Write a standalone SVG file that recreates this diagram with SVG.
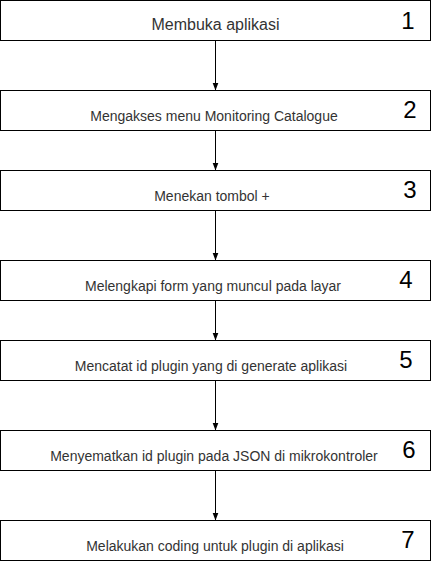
<svg xmlns="http://www.w3.org/2000/svg" width="443" height="561" viewBox="0 0 443 561">
  <style>
    .box { fill: #ffffff; stroke: #000000; stroke-width: 1; }
    .lbl { font-family: "Liberation Sans", Arial, sans-serif; font-size: 14px; fill: #333333; text-anchor: middle; }
    .num { font-family: "Liberation Sans", Arial, sans-serif; font-size: 24px; fill: #000000; text-anchor: middle; }
    .edge { fill: none; stroke: #000000; stroke-width: 1; }
  </style>
  <defs>
    <marker id="arrow" viewBox="0 0 8 8" refX="8" refY="4" markerWidth="8" markerHeight="8" markerUnits="userSpaceOnUse" orient="auto">
      <path d="M0,1 L8,4 L0,7 Z" fill="#000000"/>
    </marker>
  </defs>
  <rect width="443" height="561" fill="#ffffff"/>
  <g id="connectors">
    <line class="edge" x1="215.5" y1="40.5" x2="215.5" y2="90.5" marker-end="url(#arrow)"/>
    <line class="edge" x1="215.5" y1="130.5" x2="215.5" y2="170.5" marker-end="url(#arrow)"/>
    <line class="edge" x1="215.5" y1="210.5" x2="215.5" y2="260.5" marker-end="url(#arrow)"/>
    <line class="edge" x1="215.5" y1="300.5" x2="215.5" y2="340.5" marker-end="url(#arrow)"/>
    <line class="edge" x1="215.5" y1="380.5" x2="215.5" y2="430.5" marker-end="url(#arrow)"/>
    <line class="edge" x1="215.5" y1="470.5" x2="215.5" y2="520.5" marker-end="url(#arrow)"/>
  </g>
  <g id="step1">
    <rect class="box" x="0.5" y="0.5" width="430" height="40"/>
    <text class="lbl" x="215.5" y="30" style="font-size:16px">Membuka aplikasi</text>
    <text class="num" x="408" y="29">1</text>
  </g>
  <g id="step2">
    <rect class="box" x="0.5" y="90.5" width="430" height="40"/>
    <text class="lbl" x="214" y="121">Mengakses menu Monitoring Catalogue</text>
    <text class="num" x="410" y="117.5">2</text>
  </g>
  <g id="step3">
    <rect class="box" x="0.5" y="170.5" width="430" height="40"/>
    <text class="lbl" x="212" y="201">Menekan tombol +</text>
    <text class="num" x="410" y="197.5">3</text>
  </g>
  <g id="step4">
    <rect class="box" x="0.5" y="260.5" width="430" height="40"/>
    <text class="lbl" x="213" y="291">Melengkapi form yang muncul pada layar</text>
    <text class="num" x="406" y="287.5">4</text>
  </g>
  <g id="step5">
    <rect class="box" x="0.5" y="340.5" width="430" height="40"/>
    <text class="lbl" x="211" y="371">Mencatat id plugin yang di generate aplikasi</text>
    <text class="num" x="406" y="367.5">5</text>
  </g>
  <g id="step6">
    <rect class="box" x="0.5" y="430.5" width="430" height="40"/>
    <text class="lbl" x="214" y="461">Menyematkan id plugin pada JSON di mikrokontroler</text>
    <text class="num" x="409" y="458">6</text>
  </g>
  <g id="step7">
    <rect class="box" x="0.5" y="520.5" width="430" height="40"/>
    <text class="lbl" x="215" y="551">Melakukan coding untuk plugin di aplikasi</text>
    <text class="num" x="408" y="548">7</text>
  </g>
</svg>
